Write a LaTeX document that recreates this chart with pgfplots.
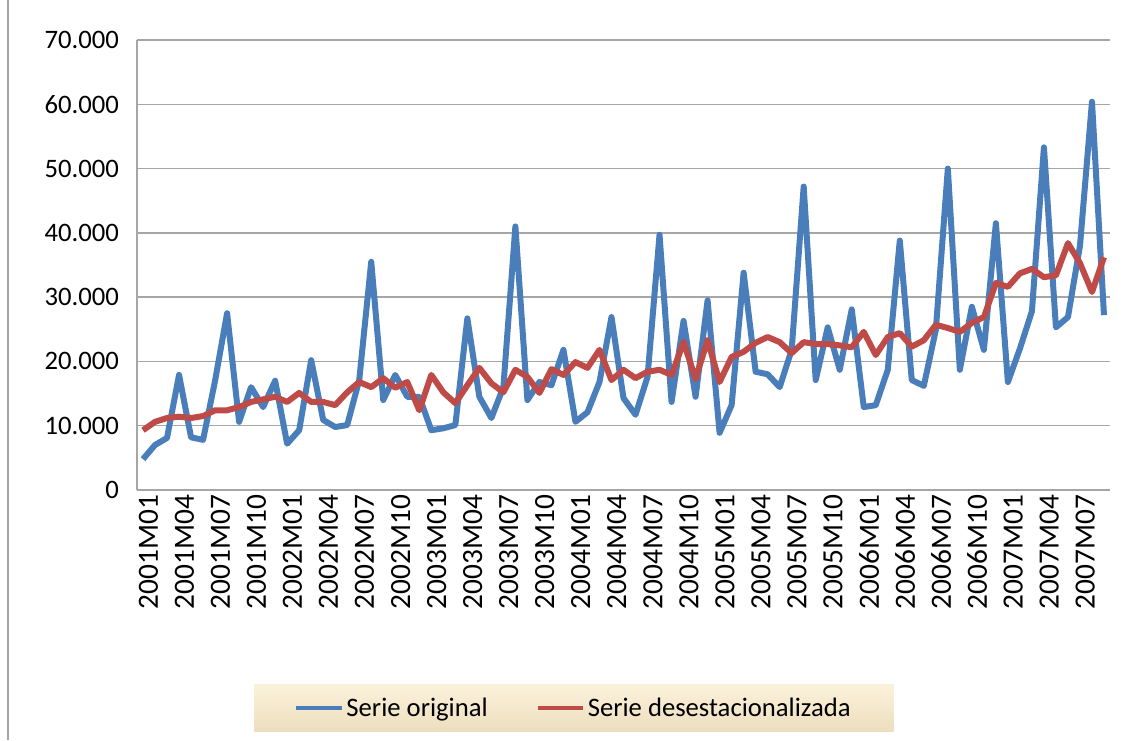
\documentclass[border=0pt]{standalone}
\usepackage{fontspec}
\setmainfont{Carlito}
\usepackage{pgfplots}
\pgfplotsset{compat=1.18}
\definecolor{sblue}{HTML}{4A7EBB}
\definecolor{sred}{HTML}{BE4B48}
\definecolor{gridc}{HTML}{A6A6A6}
\definecolor{legtop}{HTML}{FCF2DC}
\definecolor{legbot}{HTML}{ECDEBE}
\begin{document}
\begin{tikzpicture}
\path[use as bounding box] (-102.75pt,-187.5pt) rectangle (746.25pt,367.5pt);
\draw[gridc, line width=1pt] (-96.75pt,-187.5pt) -- (-96.75pt,367.5pt);
\draw[gridc, line width=1pt] (0pt,0pt) -- (0pt,337.5pt);
\foreach \k in {0,1,...,7} {
  \draw[gridc, line width=1pt] (0pt,48.2143pt*\k) -- (729.75pt,48.2143pt*\k);
}
\begin{axis}[
  scale only axis,
  width=729.75pt, height=337.5pt,
  xmin=-0.5, xmax=80.5,
  ymin=0, ymax=70000,
  separate axis lines,
  every outer x axis line/.append style={draw=none},
  every outer y axis line/.append style={draw=none},
  axis line style={draw=none},
  tick style={draw=none},
  xtick pos=bottom, ytick pos=left,
  major tick length=0pt,
  scaled y ticks=false,
  ytick={0,10000,20000,30000,40000,50000,60000,70000},
  yticklabels={0,10.000,20.000,30.000,40.000,50.000,60.000,70.000},
  yticklabel style={font=\fontsize{20}{24}\selectfont, xshift=-10pt},
  xtick={0,3,...,78},
  xticklabels={2001M01,2001M04,2001M07,2001M10,2002M01,2002M04,2002M07,2002M10,2003M01,2003M04,2003M07,2003M10,2004M01,2004M04,2004M07,2004M10,2005M01,2005M04,2005M07,2005M10,2006M01,2006M04,2006M07,2006M10,2007M01,2007M04,2007M07},
  xticklabel style={font=\fontsize{22}{26}\selectfont, rotate=90, anchor=east, yshift=-4pt},
  legend columns=2,
  legend style={at={(axis description cs:0.449,-0.484)}, anchor=center,
    draw=none, top color=legtop, bottom color=legbot,
    inner xsep=30pt, inner ysep=8pt,
    font=\fontsize{20}{24}\selectfont,
    /tikz/every even column/.append style={column sep=34pt}},
  legend image code/.code={\draw[#1, line width=3pt] (0pt,0pt) -- (34pt,0pt);},
  legend cell align=left,
]
\addplot[sblue, line width=4.5pt, line join=round] coordinates {
(0,4800)(1,7000)(2,8100)(3,17900)(4,8200)(5,7800)(6,17000)(7,27500)(8,10600)(9,16000)
(10,12900)(11,17000)(12,7200)(13,9300)(14,20200)(15,10900)(16,9800)(17,10100)(18,17100)(19,35500)
(20,14000)(21,17900)(22,14500)(23,14500)(24,9300)(25,9600)(26,10100)(27,26700)(28,14500)(29,11200)
(30,16000)(31,41000)(32,14000)(33,16800)(34,16300)(35,21800)(36,10600)(37,12100)(38,16800)(39,26900)
(40,14300)(41,11700)(42,17600)(43,39700)(44,13700)(45,26300)(46,14500)(47,29500)(48,8900)(49,13200)
(50,33800)(51,18400)(52,18000)(53,16000)(54,21800)(55,47200)(56,17100)(57,25300)(58,18700)(59,28100)
(60,12900)(61,13200)(62,18700)(63,38800)(64,17100)(65,16200)(66,24900)(67,50000)(68,18700)(69,28500)
(70,21800)(71,41500)(72,16800)(73,22000)(74,27800)(75,53300)(76,25300)(77,26900)(78,38000)(79,60400)
(80,27200)};
\addlegendentry{Serie original}
\addplot[sred, line width=4.5pt, line join=round] coordinates {
(0,9300)(1,10600)(2,11200)(3,11400)(4,11200)(5,11500)(6,12400)(7,12400)(8,12900)(9,13700)
(10,14100)(11,14500)(12,13700)(13,15100)(14,13700)(15,13700)(16,13200)(17,15200)(18,16800)(19,16000)
(20,17400)(21,15900)(22,16800)(23,12400)(24,17900)(25,15200)(26,13500)(27,16300)(28,19000)(29,16600)
(30,15200)(31,18700)(32,17600)(33,15100)(34,18800)(35,17900)(36,19900)(37,19000)(38,21800)(39,17100)
(40,18700)(41,17400)(42,18400)(43,18700)(44,17900)(45,23000)(46,17300)(47,23300)(48,16800)(49,20700)
(50,21500)(51,22900)(52,23800)(53,23000)(54,21300)(55,23000)(56,22700)(57,22700)(58,22500)(59,22200)
(60,24600)(61,21000)(62,23800)(63,24400)(64,22300)(65,23300)(66,25700)(67,25200)(68,24600)(69,26000)
(70,26900)(71,32200)(72,31600)(73,33700)(74,34400)(75,33100)(76,33400)(77,38400)(78,35300)(79,30800)
(80,36200)};
\addlegendentry{Serie desestacionalizada}
\end{axis}
\fill[white] (730.3pt,0.6pt) rectangle (733pt,337pt);
\end{tikzpicture}
\end{document}
